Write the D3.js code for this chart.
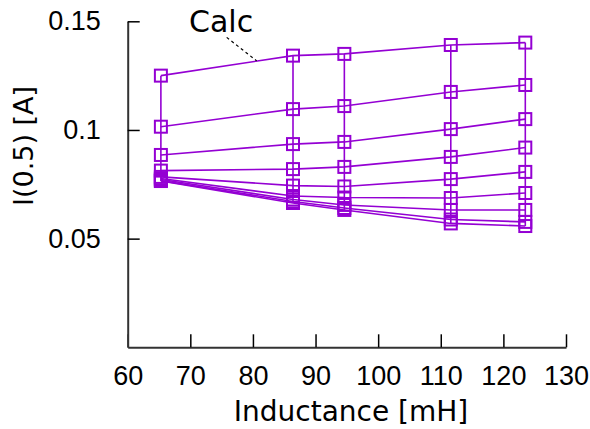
<!DOCTYPE html>
<html><head><meta charset="utf-8">
<script src="https://cdn.jsdelivr.net/npm/d3@7/dist/d3.min.js"></script>
<style>body{margin:0;background:#fff}</style>
</head><body><svg id="c" width="590" height="429"></svg>
<script>
// ---- data ----
const inductance = [65.3, 86.4, 94.6, 111.6, 123.5];
const s1 = [0.1250, 0.1342, 0.1350, 0.1391, 0.1402];
const s2 = [0.1015, 0.1096, 0.1110, 0.1175, 0.1207];
const s3 = [0.0885, 0.0935, 0.0945, 0.1004, 0.1050];
const s4 = [0.0813, 0.0820, 0.0830, 0.0876, 0.0919];
const s5 = [0.0784, 0.0744, 0.0740, 0.0774, 0.0807];
const s6 = [0.0777, 0.0696, 0.0689, 0.0687, 0.0710];
const s7 = [0.0772, 0.0680, 0.0655, 0.0632, 0.0632];
const s8 = [0.0767, 0.0671, 0.0641, 0.0588, 0.0577];
const s9 = [0.0765, 0.0664, 0.0632, 0.0570, 0.0558];
const seriesValues = [s1, s2, s3, s4, s5, s6, s7, s8, s9];
const xTicks = [60, 70, 80, 90, 100, 110, 120, 130];
const yTicks = [0.05, 0.1, 0.15];
const xTitle = "Inductance [mH]";
const yTitle = "I(0.5) [A]";
const seriesLabel = "Calc";
const labelAnchor = [80.6, 0.1318];   // point on the top curve the label points to

// ---- layout ----
const W = 590, H = 429;
const L = 127.7, R = 566, T = 21.3, B = 347.3;
const color = "#9400D3";
const numFont = "'Liberation Sans', Arial, sans-serif";
const txtFont = "'DejaVu Sans', Verdana, sans-serif";

const svg = d3.select("#c");
const x = d3.scaleLinear().domain([60, 130]).range([L, R]);
const y = d3.scaleLinear().domain([0, 0.15]).range([B, T]);

// axes
const xAxis = d3.axisBottom(x).tickValues(xTicks).tickFormat(d3.format("d"))
  .tickSizeInner(-13).tickSizeOuter(0).tickPadding(19);
const yAxis = d3.axisLeft(y).tickValues(yTicks).tickFormat(d => String(d))
  .tickSizeInner(-12).tickSizeOuter(0).tickPadding(27);

const gx = svg.append("g").attr("transform", `translate(0,${B})`).call(xAxis);
const gy = svg.append("g").attr("transform", `translate(${L},0)`).call(yAxis);
[gx, gy].forEach(g => {
  g.select(".domain").attr("stroke", "#333").attr("stroke-width", 2);
  g.selectAll(".tick line").attr("stroke", "#000").attr("stroke-width", 1.5);
  g.selectAll(".tick text").attr("fill", "#000")
    .style("font-family", numFont).style("font-size", "27px");
});

// titles
svg.append("text").attr("x", 351).attr("y", 421).attr("text-anchor", "middle")
  .style("font-family", txtFont).style("font-size", "28px").text(xTitle);
svg.append("text").attr("transform", "translate(33,146) rotate(-90)")
  .attr("text-anchor", "middle")
  .style("font-family", txtFont).style("font-size", "27px").text(yTitle);

// vertical connecting lines at each inductance
const plot = svg.append("g");
inductance.forEach((xv, i) => {
  const vals = seriesValues.map(s => s[i]);
  plot.append("line")
    .attr("x1", x(xv)).attr("x2", x(xv))
    .attr("y1", y(d3.max(vals))).attr("y2", y(d3.min(vals)))
    .attr("stroke", color).attr("stroke-width", 1.6);
});

// series lines
const line = d3.line().x((d, i) => x(inductance[i])).y(d => y(d));
seriesValues.forEach(s => {
  plot.append("path").attr("d", line(s)).attr("fill", "none")
    .attr("stroke", color).attr("stroke-width", 1.6);
});

// markers
const m = 12;
seriesValues.forEach(s => {
  s.forEach((v, i) => {
    plot.append("rect")
      .attr("x", x(inductance[i]) - m / 2).attr("y", y(v) - m / 2)
      .attr("width", m).attr("height", m)
      .attr("fill", "none").attr("stroke", color).attr("stroke-width", 2);
  });
});

// label with dashed leader
const ax = x(labelAnchor[0]), ay = y(labelAnchor[1]);
svg.append("line").attr("x1", ax - 30).attr("y1", ay - 23.5)
  .attr("x2", ax).attr("y2", ay)
  .attr("stroke", "#000").attr("stroke-width", 1.2).attr("stroke-dasharray", "3,3");
svg.append("text").attr("x", 189).attr("y", 32)
  .style("font-family", txtFont).style("font-size", "30px").text(seriesLabel);
</script></body></html>
